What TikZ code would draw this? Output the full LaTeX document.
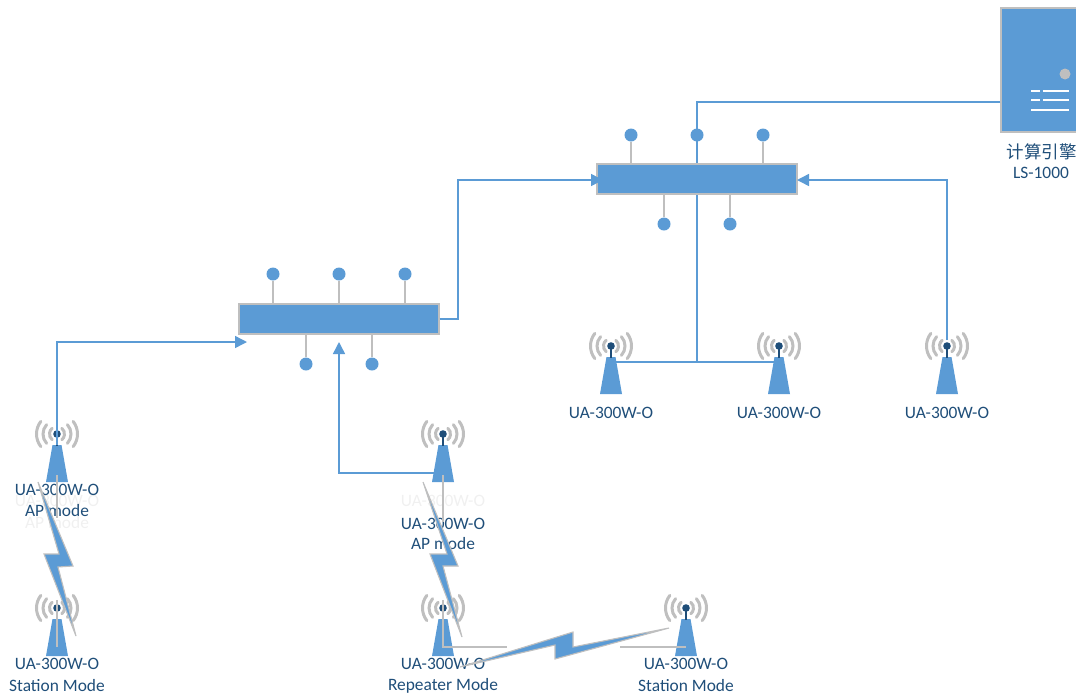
\documentclass[tikz,border=0pt]{standalone}
\usepackage{xcolor}
\usepackage{fontspec}
\usepackage{tikz}
\usetikzlibrary{arrows.meta}
\setmainfont{Carlito}
\newfontfamily\cjk{Noto Sans CJK SC}
\definecolor{fillblue}{HTML}{5B9BD5}
\definecolor{textblue}{HTML}{1F4E79}
\definecolor{edgegray}{HTML}{BFBFBF}
\tikzset{
  tower/.pic={
    \foreach \r/\a in {7.5/50, 14/42, 20.5/38} {
      \draw[edgegray, line width=3pt, line cap=round] (180-\a:\r) arc (180-\a:180+\a:\r);
      \draw[edgegray, line width=3pt, line cap=round] (-\a:\r) arc (-\a:\a:\r);
    }
    \fill[fillblue] (-4.5,11) -- (4.5,11) -- (11,48) -- (-11,48) -- cycle;
    \draw[textblue, line width=1.6pt] (0,0) -- (0,12);
    \fill[textblue] (0,0) circle (3.8);
    \coordinate (-dot) at (0,0);
  },
  hubpin/.style={draw=none, fill=fillblue, circle, inner sep=0pt, minimum size=13pt},
  hubbar/.style={draw=edgegray, line width=1.3pt, fill=fillblue, inner sep=0pt, minimum width=200pt, minimum height=30pt},
  lbl/.style={text=textblue, font=\fontsize{17.4}{19}\selectfont, align=center, inner sep=0pt},
  ghost/.style={text=black!6, font=\fontsize{17.4}{19}\selectfont, inner sep=0pt},
  link/.style={draw=fillblue, line width=1.5pt},
  wire/.style={draw=edgegray, line width=1.4pt},
  bolt/.style={draw=edgegray, line width=1.1pt, fill=fillblue, line join=miter},
  tip/.style={-{Triangle[length=12pt, width=12pt]}},
}
\begin{document}
\begin{tikzpicture}[x=1pt, y=-1pt]
    \useasboundingbox (0,0) rectangle (1076,697);

    % faint copies behind the labels
    \node[ghost] (ghostA) at (57,501) {UA-300W-O};
    \node[ghost] (ghostB) at (57,523) {AP mode};
    \node[ghost] (ghostC) at (443,501) {UA-300W-O};

    % towers
    \pic (twrA) at (611,346) {tower};
    \pic (twrB) at (779,346) {tower};
    \pic (twrC) at (947,346) {tower};
    \pic (twrD) at (57,434) {tower};
    \pic (twrE) at (443,434) {tower};
    \pic (twrF) at (57,608) {tower};
    \pic (twrG) at (443,608) {tower};
    \pic (twrH) at (686,608) {tower};

    % server
    \node[draw=edgegray, line width=1.5pt, fill=fillblue, inner sep=0pt, minimum width=90pt, minimum height=124pt] (server) at (1046,70) {};
    \node[circle, draw=none, fill=edgegray, inner sep=0pt, minimum size=11pt] (led) at (1065,74) {};
    \coordinate (barA) at (1031,91);
    \coordinate (barB) at (1031,100);
    \coordinate (barC) at (1031,110);
    \draw[white, line width=2.8pt] (barA) -- ++(9,0) ++(3,0) -- ++(26,0);
    \draw[white, line width=2.8pt] (barB) -- ++(9,0) ++(3,0) -- ++(26,0);
    \draw[white, line width=2.8pt] (barC) -- ++(38,0);
    \node[lbl] (srvname) at (1041.5,152) {{\cjk\fontsize{17.5}{19}\selectfont 计算引擎}};
    \node[lbl] (srvtype) at (1041,173) {LS-1000};

    % junctions on the blue lines
    \coordinate (joinS) at (697,102);
    \coordinate (joinT) at (697,362);
    \coordinate (footA) at (615,362);
    \coordinate (footB) at (775,362);
    \coordinate (footC) at (947,340);
    \coordinate (footD) at (57,445);
    \coordinate (footE) at (436,473);
    \coordinate (inA) at (603,180);
    \coordinate (inB) at (797,180);
    \coordinate (inC) at (247,342);
    \coordinate (inD) at (339,342);

    \draw[link] (server.west |- joinS) -- (joinS) -- (joinT);
    \draw[link] (footA) -- (joinT) -- (footB);

    % hubs
    \node[hubbar] (hubA) at (697,179) {};
    \node[hubbar] (hubB) at (339,319) {};
    \foreach \n/\x in {a/-66, b/0, c/66} {
      \node[hubpin] (topA\n) at (697+\x,135) {};
      \node[hubpin] (topB\n) at (339+\x,274) {};
    }
    \foreach \n/\x in {a/-33, b/33} {
      \node[hubpin] (botA\n) at (697+\x,224) {};
      \node[hubpin] (botB\n) at (339+\x,364) {};
      \draw[wire] (botA\n) -- (botA\n |- hubA.south);
      \draw[wire] (botB\n) -- (botB\n |- hubB.south);
    }
    \draw[wire] (topAa) -- (topAa |- hubA.north);
    \draw[wire] (topAc) -- (topAc |- hubA.north);
    \draw[wire] (topBa) -- (topBa |- hubB.north);
    \draw[wire] (topBb) -- (topBb |- hubB.north);
    \draw[wire] (topBc) -- (topBc |- hubB.north);

    \draw[link, tip] (hubB.east) -- ++(18.5,0) |- (inA);
    \draw[link, tip] (footC) |- (inB);
    \draw[link, tip] (footD) |- (inC);
    \draw[link, tip] (footE) -| (inD);

    % labels
    \node[lbl] (lblA) at (611,413) {UA-300W-O};
    \node[lbl] (lblB) at (779,413) {UA-300W-O};
    \node[lbl] (lblC) at (947,413) {UA-300W-O};
    \node[lbl] (lblD) at (57,489.5) {UA-300W-O};
    \node[lbl] (lblDm) at (57,510.5) {AP mode};
    \node[lbl] (lblE) at (443,523.5) {UA-300W-O};
    \node[lbl] (lblEm) at (443,543.5) {AP mode};
    \node[lbl] (lblF) at (57,663.5) {UA-300W-O};
    \node[lbl] (lblFm) at (57,685.5) {Station Mode};
    \node[lbl] (lblG) at (443,663.5) {UA-300W-O};
    \node[lbl] (lblGm) at (443,685.5) {Repeater Mode};
    \node[lbl] (lblH) at (686,663.5) {UA-300W-O};
    \node[lbl] (lblHm) at (686,685.5) {Station Mode};

    % radio links
    \coordinate (wireD) at (57,475);
    \coordinate (wireDe) at (57,518);
    \coordinate (wireE) at (443,475);
    \coordinate (wireEe) at (443,522);
    \coordinate (wireF) at (57,600);
    \coordinate (wireFe) at (57,647);
    \coordinate (wireG) at (443,600);
    \coordinate (wireGc) at (443,647);
    \coordinate (wireGe) at (507,647);
    \coordinate (wireH) at (686,647);
    \coordinate (wireHe) at (620,647);
    \draw[wire] (wireD) -- (wireDe);
    \draw[wire] (wireE) -- (wireEe);
    \draw[wire] (wireF) -- (wireFe);
    \draw[wire] (wireG) -- (wireGc) -- (wireGe);
    \draw[wire] (wireH) -- (wireHe);
    \draw[bolt] (38,482) -- (73,566) -- (58,567) -- (76,636) -- (44,554) -- (59,554) -- cycle;
    \draw[bolt] (423,482) -- (458,566) -- (443,566) -- (462,637) -- (430,554) -- (447,554) -- cycle;
    \draw[bolt] (460,667) -- (573,632) -- (573,647) -- (669,628) -- (555,659) -- (555,645) -- cycle;
\end{tikzpicture}
\end{document}
